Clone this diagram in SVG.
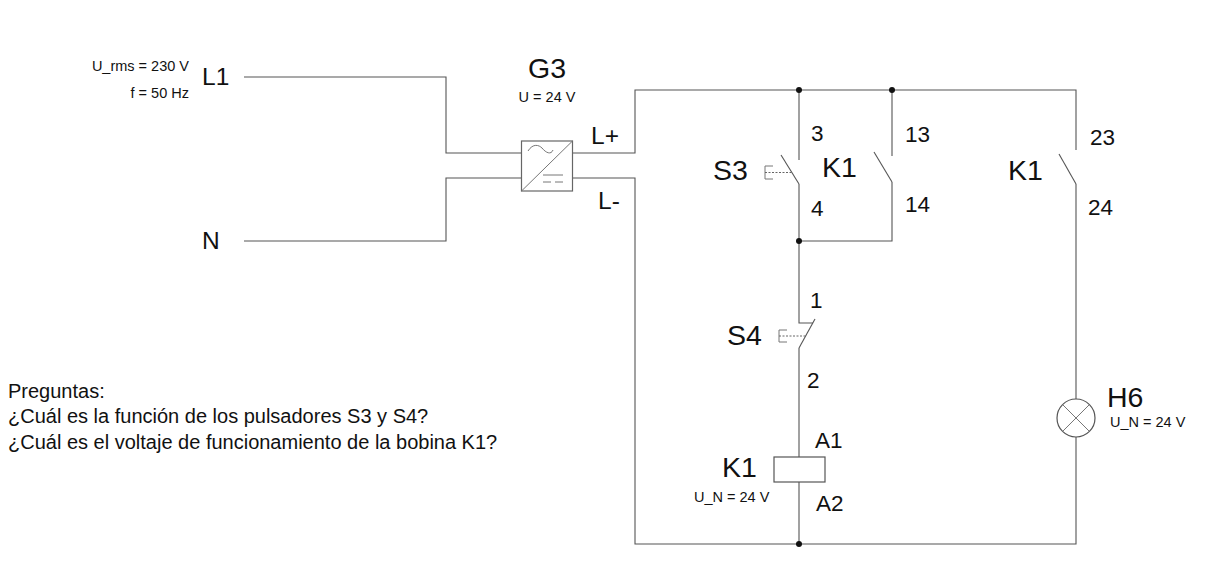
<svg xmlns="http://www.w3.org/2000/svg" width="1215" height="578" viewBox="0 0 1215 578">
<style>
text{font-family:"Liberation Sans",Arial,sans-serif;fill:#111}
.w{fill:none;stroke:#555;stroke-width:1.1}
.s{fill:none;stroke:#777;stroke-width:1}
.d{fill:none;stroke:#666;stroke-width:1;stroke-dasharray:2 1.5}
.t{font-size:14.500px}
.n{font-size:22.500px}
.b{font-size:28.500px}
.m{font-size:24.500px}
.q{font-size:20px}
.dot{fill:#111}
</style>
<rect width="1215" height="578" fill="#fff"/>
<g id="connectors">
<path class="w" d="M244 77H446V153H521"/>
<path class="w" d="M244 241H446V178H521"/>
<path class="w" d="M572 153H635V90H1076V150"/>
<path class="w" d="M572 178H635V544H1076V437"/>
<path class="w" d="M1076 184V399"/>
<path class="w" d="M799 90V160M799 184V323H813M799 348V457M799 482V544"/>
<path class="w" d="M892 90V156M892 182V241H799"/>
</g>
<g id="L1"><text class="m" x="202" y="85">L1</text>
<text class="t" x="189" y="71" text-anchor="end">U_rms = 230 V</text>
<text class="t" x="189" y="98" text-anchor="end">f = 50 Hz</text></g>
<g id="N"><text class="m" x="202" y="249">N</text></g>
<g id="G3">
<rect x="521.500" y="141" width="51" height="50" fill="#fff" stroke="#666" stroke-width="1.200"/>
<path class="s" d="M521.500 191L572.500 141"/>
<path class="s" d="M528 151C533 143 539 145 542 148C546 153 551 155 553 150"/>
<path class="s" d="M543 175H563"/>
<path class="s" d="M543 182H551M555 182H563"/>
<text class="b" x="528" y="78">G3</text>
<text class="t" x="547" y="102" text-anchor="middle">U = 24 V</text>
<text class="m" x="591" y="144">L+</text>
<text class="m" x="598" y="209">L-</text>
</g>
<g id="S3">
<path class="w" d="M781 155L799 184"/>
<path class="s" d="M773 166H765V179H773"/>
<path class="d" d="M765 172.500H792"/>
<text class="b" x="713" y="180">S3</text>
<text class="n" x="811" y="141">3</text>
<text class="n" x="811" y="216">4</text>
</g>
<g id="K1-13">
<path class="w" d="M874 152L892 182"/>
<text class="b" x="822" y="177">K1</text>
<text class="n" x="905" y="142">13</text>
<text class="n" x="905" y="212">14</text>
</g>
<g id="K1-23">
<path class="w" d="M1059 154L1076 184"/>
<text class="b" x="1008" y="180">K1</text>
<text class="n" x="1090" y="145">23</text>
<text class="n" x="1088" y="215">24</text>
</g>
<g id="S4">
<path class="w" d="M815 319L799 348"/>
<path class="s" d="M787 330H779V342H787"/>
<path class="d" d="M779 336H806"/>
<text class="b" x="727" y="345">S4</text>
<text class="n" x="810" y="308">1</text>
<text class="n" x="807" y="388">2</text>
</g>
<g id="K1-coil">
<rect x="774" y="457" width="51" height="25" fill="#fff" stroke="#555" stroke-width="1.200"/>
<text class="b" x="722" y="477">K1</text>
<text class="t" x="694" y="502">U_N = 24 V</text>
<text class="n" x="815" y="448">A1</text>
<text class="n" x="816" y="511">A2</text>
</g>
<g id="H6">
<circle cx="1076" cy="418" r="19" fill="#fff" stroke="#555" stroke-width="1.200"/>
<path class="s" d="M1062.600 404.600L1089.400 431.400M1089.400 404.600L1062.600 431.400"/>
<text class="b" x="1107" y="407">H6</text>
<text class="t" x="1110" y="427">U_N = 24 V</text>
</g>
<g id="junctions">
<circle class="dot" cx="799" cy="90" r="3"/>
<circle class="dot" cx="892" cy="90" r="3"/>
<circle class="dot" cx="799" cy="241" r="3"/>
<circle class="dot" cx="799" cy="544" r="3"/>
</g>
<g id="preguntas">
<text class="q" x="8" y="398">Preguntas:</text>
<text class="q" x="8" y="423">¿Cuál es la función de los pulsadores S3 y S4?</text>
<text class="q" x="8" y="449">¿Cuál es el voltaje de funcionamiento de la bobina K1?</text>
</g>
</svg>
